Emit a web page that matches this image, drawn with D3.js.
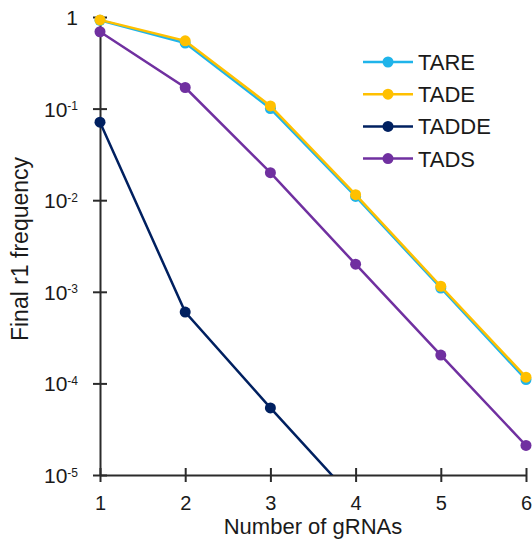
<!DOCTYPE html>
<html>
<head>
<meta charset="utf-8">
<script src="https://cdn.jsdelivr.net/npm/d3@7"></script>
<style>
  body { margin: 0; background: #fff; }
  text { font-family: "Liberation Sans", Arial, sans-serif; fill: #1a1a1a; }
  .axis path, .axis line { stroke: #2b2b2b; stroke-width: 2; }
</style>
</head>
<body>
<svg id="chart"></svg>
<script>
// data
const gRNAs = [1, 2, 3, 4, 5, 6];
const seriesNames = ["TARE", "TADE", "TADDE", "TADS"];
const seriesColors = ["#1fb4ea", "#ffc000", "#002060", "#7030a0"];
const tare = [0.92, 0.52, 0.100, 0.0110, 0.00110, 0.000110];
const tade = [0.93, 0.55, 0.107, 0.0115, 0.00115, 0.000117];
const tadde = [0.071, 0.00060, 0.000054, 0.0000052];
const tads = [0.69, 0.17, 0.020, 0.0020, 0.000204, 0.000021];
const yTicks = [1, 1e-1, 1e-2, 1e-3, 1e-4, 1e-5];

const width = 532, height = 541;
const margin = { top: 17, right: 6, bottom: 66, left: 100 };

const svg = d3.select("#chart").attr("width", width).attr("height", height);

const x = d3.scaleLinear().domain([1, 6]).range([margin.left, width - margin.right]);
const y = d3.scaleLog().domain([1e-5, 1]).range([height - margin.bottom, margin.top]);

// clip so the TADDE line stops at the x axis
svg.append("defs").append("clipPath").attr("id", "plotClip")
  .append("rect")
  .attr("x", margin.left - 10).attr("y", 0)
  .attr("width", width - margin.left + 10)
  .attr("height", y(1e-5));

// y axis
const yAxisG = svg.append("g")
  .attr("class", "axis")
  .attr("transform", `translate(${margin.left},0)`)
  .call(d3.axisLeft(y).tickValues(yTicks).tickSizeInner(7).tickSizeOuter(0).tickPadding(15));
yAxisG.selectAll(".tick line").attr("x1", -7).attr("x2", 7);
yAxisG.selectAll(".tick text")
  .attr("font-size", 21)
  .attr("dy", "0.36em")
  .each(function (d) {
    const t = d3.select(this).text("");
    const p = Math.round(Math.log10(d));
    if (p === 0) {
      t.text("1");
    } else {
      t.append("tspan").text("10");
      t.append("tspan").attr("font-size", 12).attr("dy", -6.5).text(String(p));
    }
  });

// x axis
const xAxisG = svg.append("g")
  .attr("class", "axis")
  .attr("transform", `translate(0,${y(1e-5)})`)
  .call(d3.axisBottom(x).tickValues(gRNAs).tickFormat(d3.format("d")).tickSizeInner(7).tickSizeOuter(0).tickPadding(14));
xAxisG.selectAll(".tick line").attr("y1", -7).attr("y2", 7);
xAxisG.selectAll(".tick text").attr("font-size", 20);
xAxisG.selectAll("text").attr("fill", "#1a1a1a");
yAxisG.selectAll("text").attr("fill", "#1a1a1a");

// axis titles
svg.append("text")
  .attr("x", (x(1) + x(6)) / 2)
  .attr("y", 534)
  .attr("text-anchor", "middle")
  .attr("font-size", 22)
  .text("Number of gRNAs");

svg.append("text")
  .attr("transform", `translate(28,${(y(1) + y(1e-5)) / 2 + 3}) rotate(-90)`)
  .attr("text-anchor", "middle")
  .attr("font-size", 23)
  .text("Final r1 frequency");

// series
const allSeries = [tare, tade, tadde, tads].map((vals, i) => ({
  name: seriesNames[i],
  color: seriesColors[i],
  points: vals.map((v, j) => ({ g: gRNAs[j], v }))
}));

const line = d3.line().x(d => x(d.g)).y(d => y(d.v));

const plot = svg.append("g").attr("clip-path", "url(#plotClip)");

allSeries.forEach(s => {
  const g = plot.append("g");
  g.append("path")
    .datum(s.points)
    .attr("fill", "none")
    .attr("stroke", s.color)
    .attr("stroke-width", 2.5)
    .attr("d", line);
  g.selectAll("circle")
    .data(s.points)
    .join("circle")
    .attr("cx", d => x(d.g))
    .attr("cy", d => y(d.v))
    .attr("r", 5.5)
    .attr("fill", s.color);
});

// legend
const legend = svg.append("g").attr("transform", "translate(363,62)");
allSeries.forEach((s, i) => {
  const row = legend.append("g").attr("transform", `translate(0,${i * 32.2})`);
  row.append("line")
    .attr("x1", 0).attr("x2", 50)
    .attr("stroke", s.color).attr("stroke-width", 2.5);
  row.append("circle").attr("cx", 25).attr("r", 5.5).attr("fill", s.color);
  row.append("text")
    .attr("x", 55)
    .attr("dy", "0.36em")
    .attr("font-size", 22)
    .text(s.name);
});
</script>
</body>
</html>
